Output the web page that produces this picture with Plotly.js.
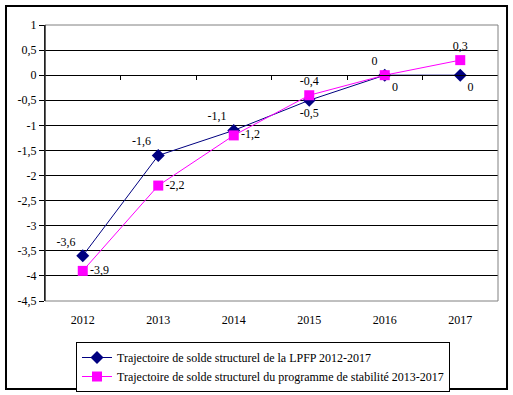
<!DOCTYPE html>
<html>
<head>
<meta charset="utf-8">
<script src="https://cdn.plot.ly/plotly-3.0.1.min.js"></script>
<style>html,body{margin:0;padding:0;background:#fff;}#chart{width:513px;height:395px;}</style>
</head>
<body>
<div id="chart"></div>
<script>
var years = ['2012', '2013', '2014', '2015', '2016', '2017'];
var lpfp = [-3.6, -1.6, -1.1, -0.5, 0, 0];
var stab = [-3.9, -2.2, -1.2, -0.4, 0, 0.3];
var lpfpName = 'Trajectoire de solde structurel de la LPFP 2012-2017';
var stabName = 'Trajectoire de solde structurel du programme de stabilité 2013-2017';
var lpfpPos = ['top left', 'top left', 'top left', 'bottom center', 'bottom right', 'bottom right'];
var stabPos = ['middle right', 'middle right', 'middle right', 'top center', 'top left', 'top center'];
var yTicks = [1, 0.5, 0, -0.5, -1, -1.5, -2, -2.5, -3, -3.5, -4, -4.5];

function fmt(v) { return String(v).replace('.', ','); }

function mkFont() { return {family: 'Liberation Serif', size: 12, color: '#000'}; }

var traces = [
  {
    x: years, y: lpfp, name: lpfpName, type: 'scatter', mode: 'lines+markers+text',
    line: {color: '#000080', width: 1},
    marker: {symbol: 'diamond', size: 10, color: '#000080'},
    text: lpfp.map(fmt), textposition: lpfpPos, textfont: mkFont(),
    cliponaxis: false, hoverinfo: 'x+y'
  },
  {
    x: years, y: stab, name: stabName, type: 'scatter', mode: 'lines+markers+text',
    line: {color: '#FF00FF', width: 1},
    marker: {symbol: 'square', size: 10, color: '#FF00FF'},
    text: stab.map(fmt), textposition: stabPos, textfont: mkFont(),
    cliponaxis: false, hoverinfo: 'x+y'
  },
  {
    x: years, y: lpfp, xaxis: 'x2', type: 'scatter', mode: 'none',
    showlegend: false, hoverinfo: 'skip'
  }
];

var layout = {
  width: 513, height: 395,
  margin: {l: 45, r: 15, t: 25, b: 94, autoexpand: false},
  paper_bgcolor: '#fff', plot_bgcolor: '#fff',
  font: mkFont(),
  separators: ', ',
  showlegend: true,
  legend: {
    x: 0.0684, y: -0.1486, xanchor: 'left', yanchor: 'top',
    bordercolor: '#000', borderwidth: 1, bgcolor: '#fff',
    font: mkFont(), tracegroupgap: 0
  },
  xaxis: {
    type: 'category', range: [-0.5, 5.5],
    showgrid: false, zeroline: false, showline: false,
    ticks: '', tickfont: mkFont(), ticklabelstandoff: 10
  },
  xaxis2: {
    type: 'linear', overlaying: 'x', anchor: 'free', side: 'bottom',
    position: 4.5 / 5.5, range: [-0.5, 5.5],
    tickmode: 'array', tickvals: [0.5, 1.5, 2.5, 3.5, 4.5],
    showticklabels: false, ticks: 'outside', ticklen: 4, tickcolor: '#000',
    showline: true, linecolor: '#000', linewidth: 1,
    showgrid: false, zeroline: false
  },
  yaxis: {
    range: [-4.5, 1], tickmode: 'array', tickvals: yTicks,
    ticktext: yTicks.map(fmt),
    showgrid: true, gridcolor: '#000', gridwidth: 1,
    zeroline: false, showline: true, linecolor: '#000', linewidth: 1,
    ticks: 'outside', ticklen: 5, tickcolor: '#000', tickfont: mkFont()
  },
  shapes: [
    {type: 'rect', xref: 'paper', yref: 'paper', x0: 0, x1: 1, y0: 0, y1: 1,
     line: {color: '#808080', width: 1}, layer: 'above'},
    {type: 'line', xref: 'paper', yref: 'paper', x0: 0, x1: 0, y0: 0, y1: 1,
     line: {color: '#000', width: 1}, layer: 'above'},
    {type: 'rect', xref: 'paper', yref: 'paper', x0: -0.0861, x1: 1.0199, y0: -0.3188, y1: 1.0688,
     line: {color: '#000', width: 2}, layer: 'above'}
  ]
};

Plotly.newPlot('chart', traces, layout, {displayModeBar: false, staticPlot: true});
</script>
</body>
</html>
